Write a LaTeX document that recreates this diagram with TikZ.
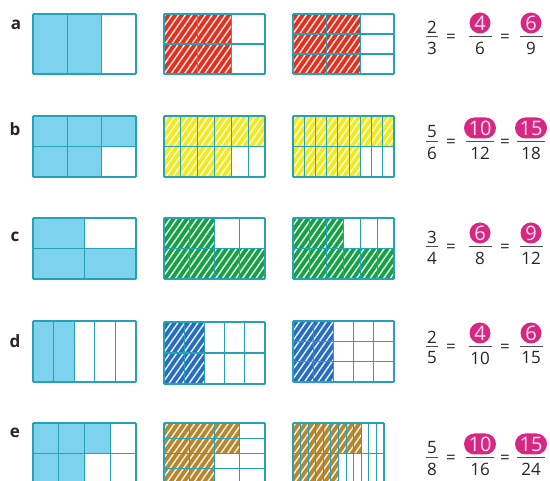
\documentclass[tikz,border=0pt]{standalone}
\usepackage{fontspec}
\setmainfont{Open Sans}
\usetikzlibrary{calc,patterns.meta}

\definecolor{boxblue}{RGB}{125,210,238}
\definecolor{gridteal}{RGB}{38,162,182}
\definecolor{crayonred}{RGB}{228,48,30}
\definecolor{crayonyellow}{RGB}{240,234,30}
\definecolor{crayongreen}{RGB}{24,160,70}
\definecolor{crayonblue}{RGB}{40,110,190}
\definecolor{crayonbrown}{RGB}{184,134,44}
\definecolor{bubblepink}{RGB}{214,40,130}
\definecolor{bubbletext}{RGB}{252,222,238}

\tikzset{
  cell/.style={draw=gridteal, line width=1.1pt},
  blueshade/.style={fill=boxblue},
  crayon/.style={fill=#1, postaction={pattern={Lines[angle=55,distance=5.5pt,line width=1.4pt]}, pattern color=white!92!#1}},
  tag/.style={font=\fontsize{17}{20}\selectfont\bfseries, text=black!85, inner sep=0pt},
  digit/.style={font=\fontsize{17}{20}\selectfont, text=black!85, inner sep=0pt},
  bubble/.style={circle, fill=bubblepink, text=bubbletext, minimum size=21pt, inner sep=0pt, font=\fontsize{20}{22}\selectfont},
  pill/.style={rectangle, rounded corners=10.5pt, fill=bubblepink, text=bubbletext, minimum width=32pt, minimum height=21pt, inner sep=0pt, font=\fontsize{20}{22}\selectfont},
  bar/.style={draw=black!70, line width=1pt}
}

% half widths of the fraction bars
\def\halfbubble{11.5}
\def\halfpill{14}

% #1 x, #2 y (top left), #3 width, #4 height, #5 columns, #6 rows, #7 shaded cells per row, #8 fill
\newcommand{\gridbox}[8]{%
  \begin{scope}[shift={(#1,#2)}]
    \foreach \n [count=\r] in {#7}
      \fill[#8] (0,{(\r-1)*#4/#6}) rectangle ({\n*#3/#5},{\r*#4/#6});
    \foreach \i in {0,...,#5}
      \draw[cell] ({\i*#3/#5},0) -- ({\i*#3/#5},#4);
    \foreach \j in {0,...,#6}
      \draw[cell] (0,{\j*#4/#6}) -- (#3,{\j*#4/#6});
  \end{scope}}

% #1 row, #2 bar y, #3/#4 given, #5/#6 and #7/#8 answers, #9 bubble or pill
\newcommand{\fracrow}[9]{%
  \node[digit] (num-#1) at (432,#2-10) {#3};
  \draw[bar] (426,#2) -- (438,#2);
  \node[digit] (den-#1) at (432,#2+11) {#4};
  \node[digit] (eqa-#1) at (451,#2+1.5) {=};
  \node[#9] (topa-#1) at (480,#2-14) {#5};
  \draw[bar] (480-\csname half#9\endcsname,#2) -- (480+\csname half#9\endcsname,#2);
  \node[digit] (bota-#1) at (480,#2+11) {#6};
  \node[digit] (eqb-#1) at (505,#2+1.5) {=};
  \node[#9] (topb-#1) at (531,#2-14) {#7};
  \draw[bar] (531-\csname half#9\endcsname,#2) -- (531+\csname half#9\endcsname,#2);
  \node[digit] (botb-#1) at (531,#2+11) {#8};}

\begin{document}
\begin{tikzpicture}[x=1pt, y=-1pt]
  \useasboundingbox (0,0) rectangle (550,481);
  \clip (0,0) rectangle (550,481);

  % row a
  \node[tag] (a) at (16,25) {a};
  \gridbox{33}{14}{103}{60}{3}{1}{2}{blueshade}
  \gridbox{164}{14}{101}{60}{3}{2}{2,2}{crayon=crayonred}
  \gridbox{293}{14}{101}{60}{3}{3}{2,2,2}{crayon=crayonred}
  \fracrow{a}{37}{2}{3}{4}{6}{6}{9}{bubble}

  % row b
  \node[tag] (b) at (15,129) {b};
  \gridbox{33}{116}{103}{61}{3}{2}{3,2}{blueshade}
  \gridbox{164}{116}{101}{61}{6}{2}{6,4}{crayon=crayonyellow}
  \gridbox{293}{116}{101}{61}{9}{2}{9,6}{crayon=crayonyellow}
  \fracrow{b}{142}{5}{6}{10}{12}{15}{18}{pill}

  % row c
  \node[tag] (c) at (15,237) {c};
  \gridbox{33}{218}{103}{61}{2}{2}{1,2}{blueshade}
  \gridbox{164}{218}{101}{61}{4}{2}{2,4}{crayon=crayongreen}
  \gridbox{293}{218}{101}{61}{6}{2}{3,6}{crayon=crayongreen}
  \fracrow{c}{247}{3}{4}{6}{8}{9}{12}{bubble}

  % row d
  \node[tag] (d) at (15,341) {d};
  \gridbox{33}{321}{103}{61}{5}{1}{2}{blueshade}
  \gridbox{164}{322}{101}{62}{5}{2}{2,2}{crayon=crayonblue}
  \gridbox{293}{321}{101}{61}{5}{3}{2,2,2}{crayon=crayonblue}
  \fracrow{d}{347}{2}{5}{4}{10}{6}{15}{bubble}

  % row e
  \node[tag] (e) at (15,433) {e};
  \gridbox{33}{423}{103}{61}{4}{2}{3,2}{blueshade}
  \gridbox{164}{423}{101}{61}{4}{4}{3,3,2,2}{crayon=crayonbrown}
  \gridbox{293}{423}{91}{61}{12}{2}{9,6}{crayon=crayonbrown}
  \fracrow{e}{458}{5}{8}{10}{16}{15}{24}{pill}
\end{tikzpicture}
\end{document}
